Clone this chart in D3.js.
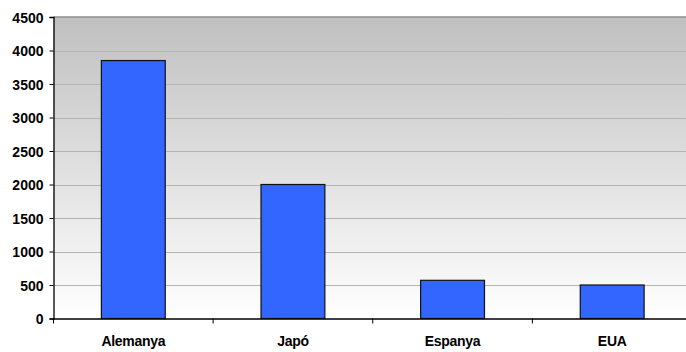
<!DOCTYPE html>
<html>
<head>
<meta charset="utf-8">
<script src="https://cdn.jsdelivr.net/npm/d3@7"></script>
<style>
  html, body { margin: 0; padding: 0; background: #fff; }
  svg { display: block; }
  .tick text { font-family: "Liberation Sans", Arial, sans-serif; font-weight: bold; font-size: 14px; fill: #000; }
</style>
</head>
<body>
<svg id="chart" width="686" height="352"></svg>
<script>
const categories = ["Alemanya", "Japó", "Espanya", "EUA"];
const values = [3850, 2000, 570, 500];
const yTicks = [0, 500, 1000, 1500, 2000, 2500, 3000, 3500, 4000, 4500];

const svg = d3.select("#chart");
const margin = { left: 53.5, top: 17, bottom: 318.5, right: 692 };

const x = d3.scaleBand().domain(categories).range([margin.left, margin.right]).paddingInner(0).paddingOuter(0);
const y = d3.scaleLinear().domain([0, 4500]).range([margin.bottom, margin.top]);

// Background gradient of the plot area
const defs = svg.append("defs");
const grad = defs.append("linearGradient").attr("id", "bg").attr("x1", 0).attr("y1", 0).attr("x2", 0).attr("y2", 1);
grad.append("stop").attr("offset", "0%").attr("stop-color", "#c0c0c0");
grad.append("stop").attr("offset", "100%").attr("stop-color", "#ffffff");

svg.append("rect")
  .attr("x", margin.left).attr("y", margin.top)
  .attr("width", margin.right - margin.left).attr("height", margin.bottom - margin.top)
  .attr("fill", "url(#bg)");

// Horizontal gridlines
svg.append("g").selectAll("line")
  .data(yTicks.filter(d => d > 0 && d < 4500))
  .join("line")
  .attr("x1", margin.left).attr("x2", margin.right)
  .attr("y1", d => Math.round(y(d)) + 0.5).attr("y2", d => Math.round(y(d)) + 0.5)
  .attr("stroke", "#b4b4b4").attr("stroke-width", 1);

// Top border of plot area
svg.append("line")
  .attr("x1", margin.left).attr("x2", margin.right)
  .attr("y1", y(4500)).attr("y2", y(4500))
  .attr("stroke", "#8c8c8c").attr("stroke-width", 1.5);

// Bars
const bw = x.bandwidth() * 0.4;
svg.append("g").selectAll("rect")
  .data(categories)
  .join("rect")
  .attr("x", (d) => x(d) + (x.bandwidth() - bw) / 2)
  .attr("y", (d, i) => y(values[i]))
  .attr("width", bw)
  .attr("height", (d, i) => y(0) - y(values[i]))
  .attr("fill", "#3366ff")
  .attr("stroke", "#111")
  .attr("stroke-width", 1.2);

// Y axis
const yAxis = svg.append("g")
  .attr("transform", `translate(${margin.left},0)`)
  .call(d3.axisLeft(y).tickValues(yTicks).tickSize(4).tickPadding(6).tickFormat(d3.format("d")));
yAxis.select(".domain").attr("stroke", "#000").attr("stroke-width", 1.3);
yAxis.selectAll(".tick line").attr("stroke", "#000");
yAxis.selectAll(".tick text").attr("dy", "0.36em");

// X axis with ticks at category boundaries
const xAxis = svg.append("g")
  .attr("transform", `translate(0,${margin.bottom})`)
  .call(d3.axisBottom(x).tickSize(0).tickPadding(18));
xAxis.select(".domain").attr("stroke", "#000").attr("stroke-width", 1.3);
xAxis.selectAll(".tick text").attr("letter-spacing", "-0.3px");

svg.append("g").selectAll("line")
  .data(categories)
  .join("line")
  .attr("x1", d => x(d)).attr("x2", d => x(d))
  .attr("y1", margin.bottom).attr("y2", margin.bottom + 5)
  .attr("stroke", "#000").attr("stroke-width", 1);
</script>
</body>
</html>
